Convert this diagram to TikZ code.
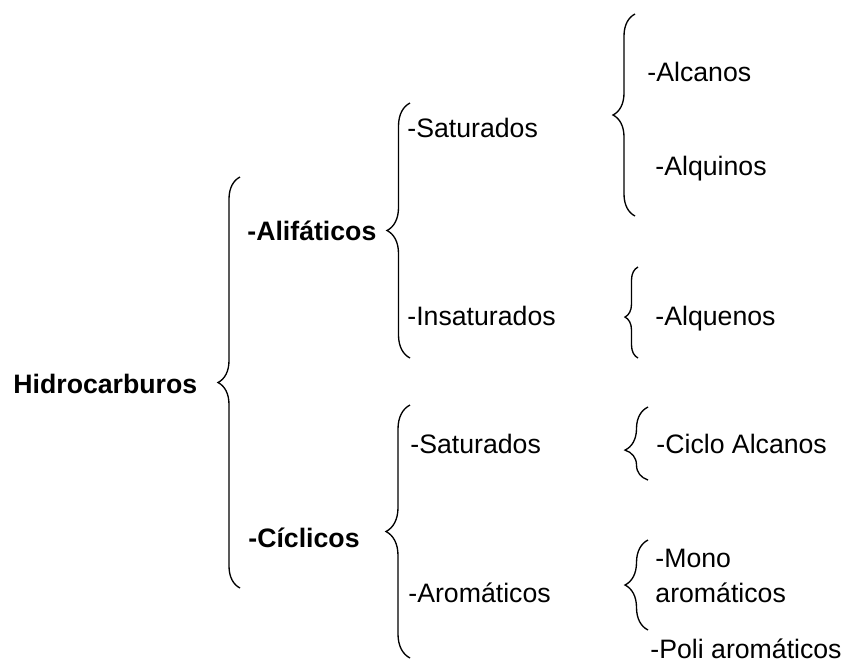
\documentclass[tikz,border=0pt]{standalone}
\usepackage{fontspec}
\setmainfont{Liberation Sans}
\usepackage{tikz}
\usetikzlibrary{decorations.pathreplacing}

\begin{document}
\begin{tikzpicture}[x=0.45pt,y=-0.45pt,
        item/.style={anchor=base west,inner sep=0pt,font=\fontsize{12}{15.75}\selectfont},
        head/.style={item,font=\fontsize{12}{15.75}\selectfont\bfseries},
        curly/.style={draw,line width=0.6pt,decorate,decoration={brace,amplitude={#1*0.45pt}}}]
        \useasboundingbox (0,0) rectangle (848,662);

        \node[head] (hidro) at (13,393) {Hidrocarburos};
        % first level
        \node[head] (alif) at (247,240) {-Alifáticos};
        \node[head] (cicl) at (248,547) {-Cíclicos};
        % second level
        \node[item] (satA) at (407,137) {-Saturados};
        \node[item] (insat) at (407,325) {-Insaturados};
        \node[item] (satC) at (410,453) {-Saturados};
        \node[item] (arom) at (408,602) {-Aromáticos};
        % third level
        \node[item] (alcanos) at (647,81) {-Alcanos};
        \node[item] (alquinos) at (655,175) {-Alquinos};
        \node[item] (alquenos) at (655,325) {-Alquenos};
        \node[item] (ciclo) at (656,453) {-Ciclo Alcanos};
        \node[item,align=left,anchor=north west] (mono) at (655,549) {-Mono\\aromáticos};
        \node[item] (poli) at (650,658) {-Poli aromáticos};

        % brace ends
        \coordinate (hidroT) at (240,177);
        \coordinate (hidroB) at (240,588);
        \coordinate (alifT) at (410,103);
        \coordinate (alifB) at (410,358);
        \coordinate (satAT) at (635,14);
        \coordinate (satAB) at (635,216);
        \coordinate (insatT) at (638,267);
        \coordinate (insatB) at (638,358);
        \coordinate (ciclT) at (410,405);
        \coordinate (ciclB) at (410,658);
        \coordinate (satCT) at (648,407);
        \coordinate (satCB) at (648,480);
        \coordinate (aromT) at (648,540);
        \coordinate (aromB) at (648,630);

        \draw[curly=22] (hidroB) -- (hidroT);
        \draw[curly=23] (alifB) -- (alifT);
        \draw[curly=22] (satAB) -- (satAT);
        \draw[curly=13,decoration={aspect=0.45}] (insatB) -- (insatT);
        \draw[curly=24] (ciclB) -- (ciclT);
        \draw[curly=23,decoration={aspect=0.41}] (satCB) -- (satCT);
        \draw[curly=23] (aromB) -- (aromT);
    \end{tikzpicture}
\end{document}
